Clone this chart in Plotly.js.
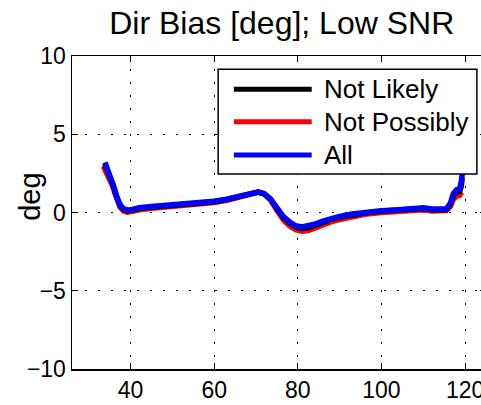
<!DOCTYPE html>
<html>
<head>
<meta charset="utf-8">
<script src="https://cdn.plot.ly/plotly-3.0.1.min.js"></script>
<style>html,body{margin:0;padding:0;overflow:hidden;background:#fff}#chart{width:490px;height:405px}</style>
</head>
<body>
<div id="chart"></div>
<script>
// Series data
var xAll = [33.9,34.5,35.2,35.8,36.3,36.8,37.5,38.3,39.2,40.5,42,45,50,55,60,63,66,68.5,70.5,72,73.5,75,76.5,78,79.5,81,82.5,84,86,88,90,93,96,100,104,108,110,112,115.5,116.5,117.2,118,118.7,119.1,119.4];
var yAll = [3.2,2.8,2.3,1.9,1.4,0.9,0.5,0.25,0.15,0.2,0.3,0.38,0.48,0.58,0.72,0.85,1.05,1.22,1.3,1.2,0.85,0.3,-0.25,-0.6,-0.85,-0.93,-0.88,-0.75,-0.55,-0.38,-0.25,-0.1,0.02,0.12,0.18,0.22,0.3,0.22,0.22,0.6,1.2,1.45,1.5,2.0,2.6];

var xNotLikely = [33.8,34.5,35.2,35.8,36.3,36.8,37.5,38.3,39.2,40.5,42,45,50,55,60,63,66,68.5,70.5,72,73.5,75,76.5,78,79.5,81,82.5,84,86,88,90,93,96,100,104,108,110,112,115.5,116.5,117.2,118,118.7,119.1,119.3];
var yNotLikely = [3.1,2.7,2.2,1.8,1.3,0.85,0.45,0.2,0.1,0.15,0.25,0.34,0.45,0.55,0.69,0.83,1.03,1.21,1.3,1.19,0.83,0.25,-0.32,-0.68,-0.93,-1.02,-0.97,-0.83,-0.62,-0.44,-0.31,-0.16,-0.03,0.08,0.14,0.18,0.26,0.18,0.18,0.52,1.05,1.3,1.35,1.7,2.2];

var xNotPossibly = [33.5,34.2,35,35.7,36.3,36.8,37.5,38.3,39.2,40.5,42,45,50,55,60,63,66,68.5,70.5,72,73.5,75,76.5,78,79.5,81,82.5,84,86,88,90,93,96,100,104,108,110,112,115.5,116.5,117.2,118,118.7,119.2];
var yNotPossibly = [2.95,2.6,2.1,1.7,1.2,0.75,0.35,0.1,0.02,0.07,0.17,0.27,0.38,0.5,0.63,0.78,1.0,1.2,1.3,1.18,0.8,0.15,-0.45,-0.85,-1.1,-1.2,-1.15,-1.0,-0.78,-0.58,-0.45,-0.28,-0.12,0.0,0.07,0.12,0.18,0.1,0.12,0.4,0.85,1.05,1.1,1.3];

var seriesNames = ['Not Likely', 'Not Possibly', 'All'];
var seriesColors = ['#000000', '#ff0000', '#0000ff'];
var xTicks = [40, 60, 80, 100, 120];
var yTicks = [-10, -5, 0, 5, 10];
var titleText = 'Dir Bias [deg]; Low SNR';
var yLabel = 'deg';

var FONT = 'Liberation Sans, Arial, Helvetica, sans-serif';

var traces = [
  {x: xNotPossibly, y: yNotPossibly, name: seriesNames[1], mode: 'lines', line: {color: seriesColors[1], width: 5.5}},
  {x: xNotLikely, y: yNotLikely, name: seriesNames[0], mode: 'lines', line: {color: seriesColors[0], width: 5.5}},
  {x: xAll, y: yAll, name: seriesNames[2], mode: 'lines', line: {color: seriesColors[2], width: 5.5}}
];

// Custom MATLAB-style legend (box, long line samples, labels)
var legX0 = 0.353, legX1 = 0.978, legY0 = 0.623, legY1 = 0.958;
var rowY = [0.894, 0.790, 0.684];
var shapes = [{type: 'rect', xref: 'paper', yref: 'paper', x0: legX0, x1: legX1, y0: legY0, y1: legY1,
  line: {color: '#000', width: 1.5}, fillcolor: '#fff', layer: 'above'}];
var annotations = [];
for (var i = 0; i < 3; i++) {
  shapes.push({type: 'line', xref: 'paper', yref: 'paper', x0: 0.391, x1: 0.579, y0: rowY[i], y1: rowY[i],
    line: {color: seriesColors[i], width: 5}, layer: 'above'});
  annotations.push({xref: 'paper', yref: 'paper', x: 0.603, y: rowY[i], xanchor: 'left', yanchor: 'middle',
    text: seriesNames[i], showarrow: false, font: {family: FONT, size: 26, color: '#000'}});
}
// y-axis label placed as in the reference
annotations.push({xref: 'paper', yref: 'paper', x: -0.1015, y: 0.55, xanchor: 'center', yanchor: 'middle',
  textangle: -90, text: yLabel, showarrow: false, font: {family: FONT, size: 29, color: '#000'}});

var layout = {
  width: 490, height: 405,
  margin: {l: 72, r: 4, t: 56, b: 36},
  paper_bgcolor: '#fff', plot_bgcolor: '#fff',
  showlegend: false,
  font: {family: FONT, color: '#000'},
  title: {text: titleText, font: {family: FONT, size: 32, color: '#000'}, x: 0.575, xref: 'container', xanchor: 'center', y: 0.943, yref: 'container', yanchor: 'middle'},
  xaxis: {range: [26, 125], tickvals: xTicks, ticks: 'inside', ticklen: 6, tickwidth: 1, tickcolor: '#000',
    showline: true, linecolor: '#000', linewidth: 1.5, mirror: 'ticks',
    showgrid: true, gridcolor: '#000', gridwidth: 1, griddash: '2px,11px', zeroline: false,
    tickfont: {family: FONT, size: 23, color: '#000'}},
  yaxis: {range: [-10, 10], tickvals: yTicks, ticks: 'inside', ticklen: 6, tickwidth: 1, tickcolor: '#000',
    showline: true, linecolor: '#000', linewidth: 1.5, mirror: 'ticks',
    showgrid: true, gridcolor: '#000', gridwidth: 1, griddash: '2px,11px', zeroline: false,
    tickfont: {family: FONT, size: 23, color: '#000'}},
  shapes: shapes,
  annotations: annotations
};

Plotly.newPlot('chart', traces, layout, {staticPlot: true, displayModeBar: false});
</script>
</body>
</html>
